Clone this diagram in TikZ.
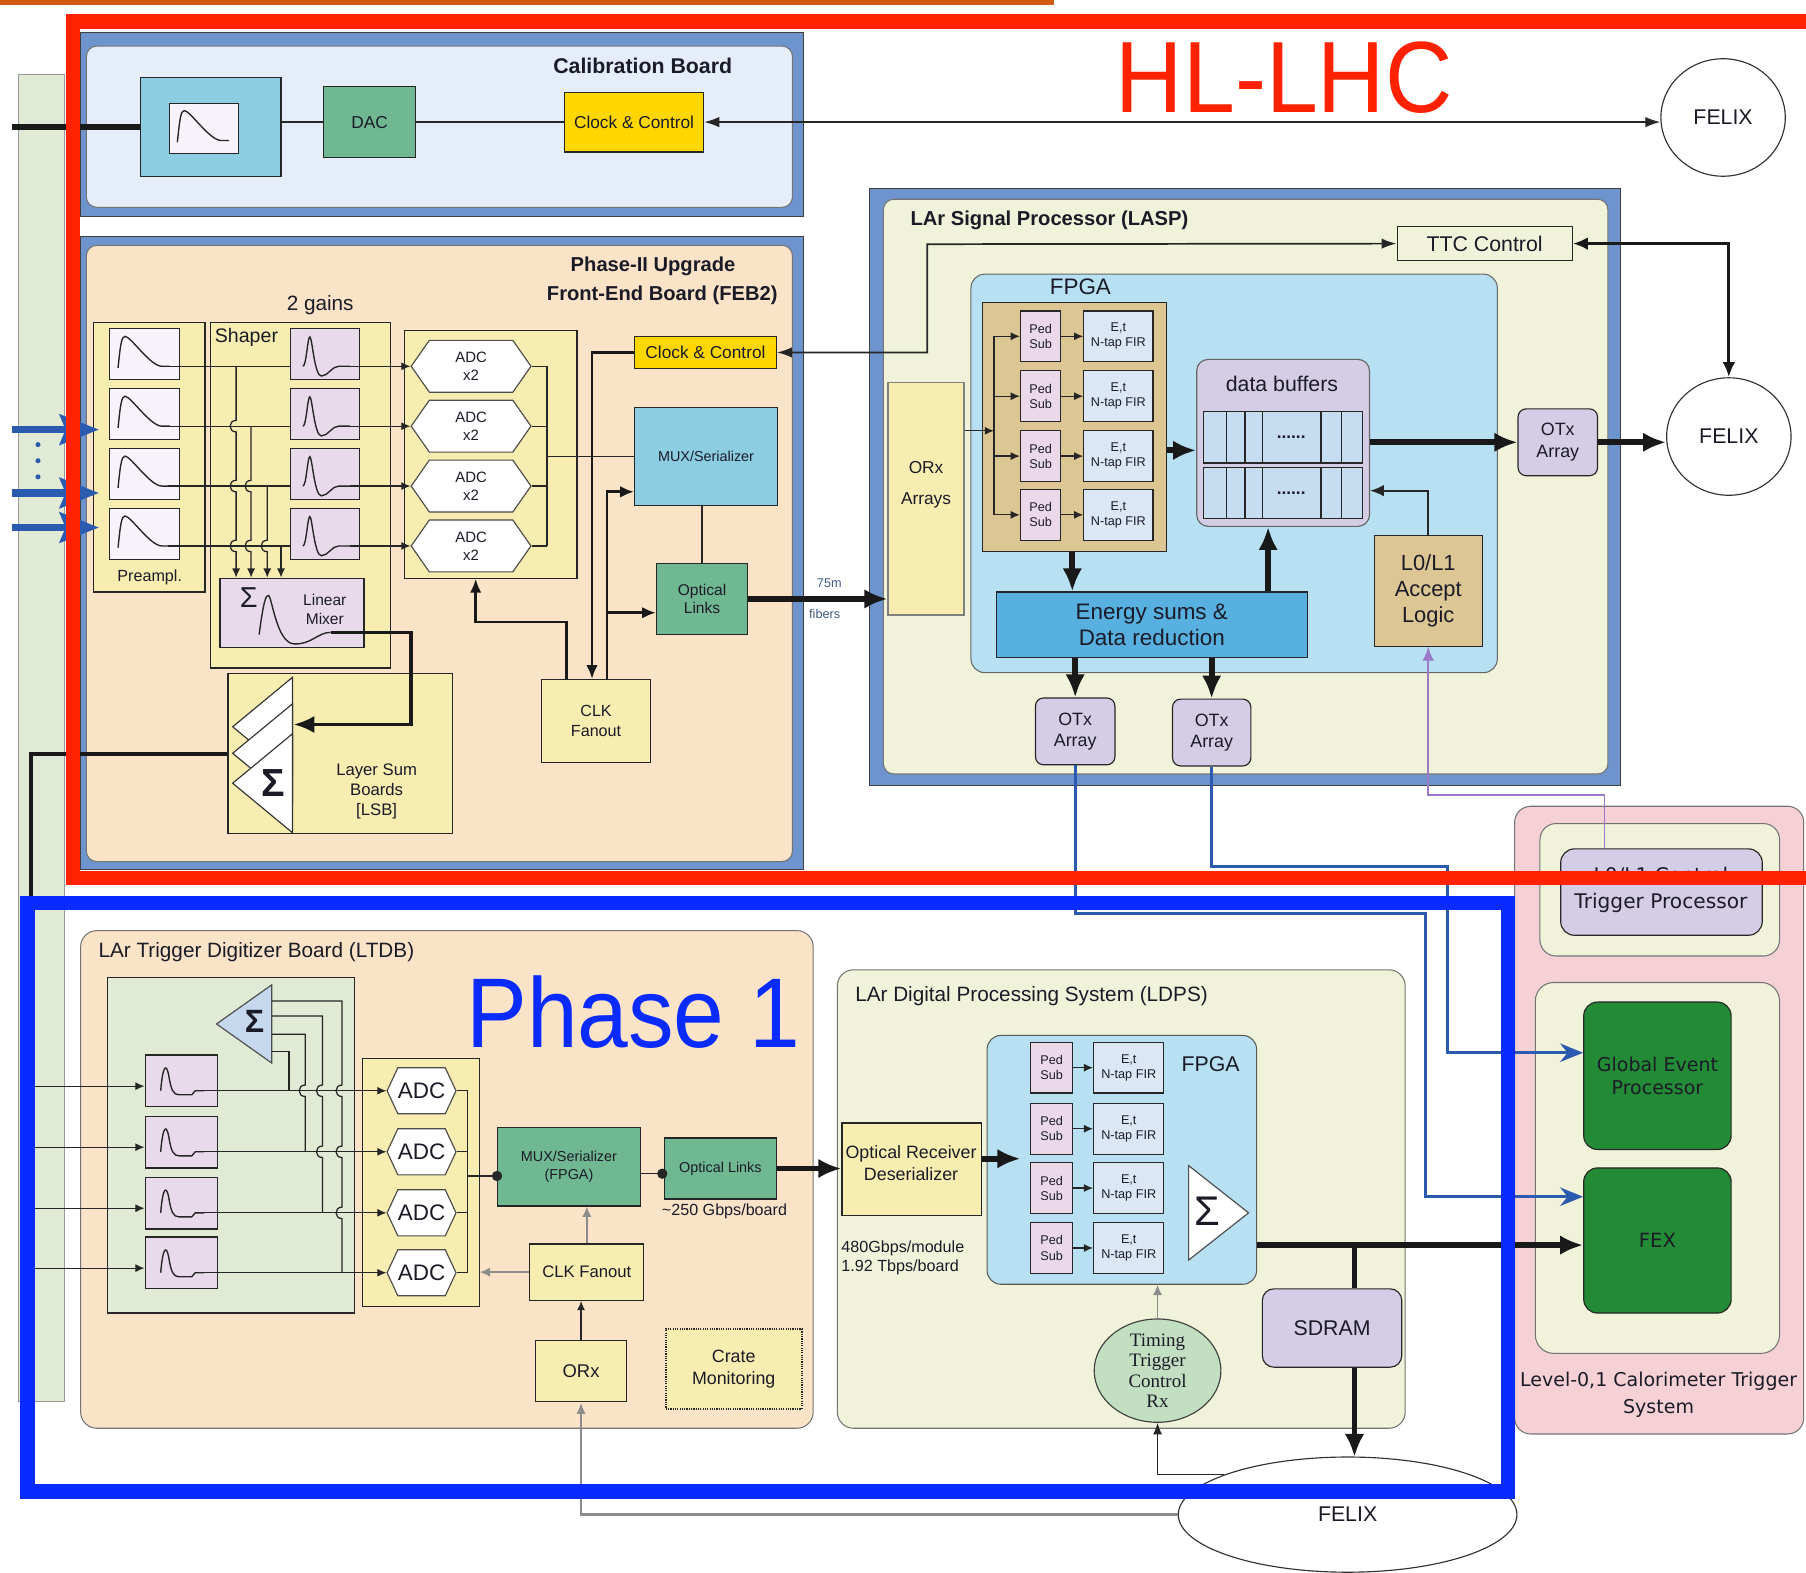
\documentclass[tikz,border=0pt]{standalone}
\usepackage{fontspec}
\setmainfont{Liberation Sans}
\newfontfamily\ttcserif{Liberation Serif}
\newfontfamily\widesans{DejaVu Sans}
\usetikzlibrary{arrows.meta,positioning,shapes.geometric,shapes.symbols}

\definecolor{hlred}{HTML}{FF2200}
\definecolor{phasebl}{HTML}{0A2BFF}
\definecolor{toporange}{HTML}{D05A12}
\definecolor{framebl}{HTML}{6E94CD}
\definecolor{calfill}{HTML}{E5EEF8}
\definecolor{peach}{HTML}{FBE3C8}
\definecolor{paleyel}{HTML}{F8EDB1}
\definecolor{palegrn}{HTML}{F0F3DA}
\definecolor{sagebg}{HTML}{E1EAD4}
\definecolor{skyfill}{HTML}{B8E0F3}
\definecolor{cyanbox}{HTML}{8DCDE2}
\definecolor{dacgrn}{HTML}{70B892}
\definecolor{clkyel}{HTML}{FFD700}
\definecolor{tanfill}{HTML}{DCC694}
\definecolor{lavfill}{HTML}{D5CDE6}
\definecolor{pulsefill}{HTML}{E8DAEA}
\definecolor{whitepulse}{HTML}{F8F3FA}
\definecolor{pedfill}{HTML}{EBD9EA}
\definecolor{firfill}{HTML}{DCE7F6}
\definecolor{bufcell}{HTML}{C6DDF1}
\definecolor{energyfill}{HTML}{58B0E0}
\definecolor{gepgrn}{HTML}{238A35}
\definecolor{l1pink}{HTML}{F5D1D6}
\definecolor{linkblue}{HTML}{2B5BAE}
\definecolor{l1purple}{HTML}{9A79C6}
\definecolor{ttcell}{HTML}{C3DFC2}
\definecolor{sumblue}{HTML}{C6D8EE}
\definecolor{inkdark}{HTML}{1B1B28}
\definecolor{fiberink}{HTML}{3D5A80}

\tikzset{
	tsz/.code={\pgfmathsetmacro\tszskip{1.2*#1}%
		\edef\tsznext{\noexpand\tikzset{font=\noexpand\fontsize{#1}{\tszskip}\noexpand\selectfont}}\tsznext},
	wsz/.code={\pgfmathsetmacro\tszskip{1.2*#1}%
		\edef\tsznext{\noexpand\tikzset{font=\noexpand\widesans\noexpand\fontsize{#1}{\tszskip}\noexpand\selectfont}}\tsznext},
	corners/.code args={#1,#2,#3,#4}{\pgfmathsetmacro\cnx{(#1+#3)/2}\pgfmathsetmacro\cny{(#2+#4)/2}%
		\pgfmathsetmacro\cnw{#3-#1}\pgfmathsetmacro\cnh{#4-#2}%
		\edef\cnnext{\noexpand\tikzset{at={(\cnx,\cny)}, minimum width=\cnw pt, minimum height=\cnh pt}}\cnnext},
	frame/.style={draw=black!75, fill=framebl, line width=0.8, inner sep=0},
	board/.style={draw=black!55, line width=0.9, rounded corners=9, inner sep=0},
	box/.style={draw=black!85, line width=1, inner sep=0, align=center},
	rbox/.style={box, rounded corners=7},
	adchex/.style={draw=black!70, fill=white, line width=1, shape=signal, signal to=west and east, inner sep=0, align=center},
	felix/.style={draw=black!80, fill=white, ellipse, line width=1, inner sep=0, tsz=18.5},
	wire/.style={line width=1.1, draw=black!85},
	arr/.style={wire, -{Latex[length=8pt,width=7pt]}},
	twoarr/.style={wire, {Latex[length=13pt,width=9pt]}-{Latex[length=13pt,width=9pt]}},
	midarr/.style={line width=2.5, draw=black!90, -{Latex[length=12pt,width=10pt]}},
	fatline/.style={line width=5, draw=black!90},
	fatarr/.style={fatline, -{Latex[length=20pt,width=17pt]}},
	bluearr/.style={line width=2.5, draw=linkblue, -{Stealth[length=20pt,width=16pt]}},
	greyarr/.style={line width=1.3, draw=black!45, -{Latex[length=9pt,width=8pt]}},
	upulse/.pic={\draw[line width=1.2, black!85] (-23,12) .. controls (-21,-8) and (-20,-15.5) .. (-17,-15.5) .. controls (-12,-15.5) and (5,10.5) .. (15,10.5) -- (22,10.5);},
	bpulse/.pic={\draw[line width=1.2, black!85] (-19,10.5) .. controls (-16,10.5) and (-15,-15) .. (-13,-15) .. controls (-11,-15) and (-9,19) .. (-3,19) .. controls (3,19) and (6,10.5) .. (12,10.5) -- (22,10.5);},
	lpulse/.pic={\draw[line width=1.2, black!85] (-18,8.5) .. controls (-16,-15) and (-13,-15) .. (-11,-5) .. controls (-9,8) and (-7,12) .. (-2,12) -- (9,12) -- (12,8.5) -- (20,8.5);}
}

\begin{document}
\begin{tikzpicture}[x=1pt,y=-1pt,every node/.style={text=inkdark}]
	\useasboundingbox (0,0) rectangle (1568,1365);

	\node[draw=black!40, fill=sagebg, line width=0.8, inner sep=0, corners={16,65,56,1217}] (sidebar) {};
	\fill[toporange] (0,0) rectangle (915,4);

	\node[frame, corners={70,28,698,188}] (calframe) {};
	\node[board, fill=calfill, corners={75,40,688,180}] (calboard) {};
	\node[tsz=18.5] (caltitle) at (558,57) {\bfseries Calibration Board};
	\node[box, fill=cyanbox, corners={122,67,244,153}] (calpulse) {};
	\node[box, fill=whitepulse, corners={147,90,207,133}] (calshape) {};
	\pic at (calshape) {upulse};
	\node[box, fill=dacgrn, tsz=15, corners={281,75,361,137}] (dac) {DAC};
	\node[box, fill=clkyel, tsz=15, corners={490,80,611,132}] (calclk) {Clock \& Control};
	\node[felix, minimum width=108, minimum height=102] (felixtop) at (1496,102) {FELIX};
	\node[text=hlred, font=\fontsize{88}{88}\selectfont] (hllhc) at (1115,67) {\scalebox{0.92}[1]{HL-LHC}};

	\draw[line width=5, black!90] (10,110) -- (calpulse.west);
	\draw[wire] (calpulse.east |- dac.west) -- (dac.west);
	\draw[wire] (dac.east) -- (calclk.west);
	\draw[twoarr] (calclk.east) -- (calclk.east -| felixtop.west);

	\node[frame, corners={70,205,698,755}] (febframe) {};
	\node[board, fill=peach, corners={75,213,688,748}] (febboard) {};
	\node[tsz=17.5] (febtitlea) at (567,231) {\bfseries Phase-II Upgrade};
	\node[tsz=17.5] (febtitleb) at (575,256) {\bfseries Front-End Board (FEB2)};
	\node[tsz=18] (gains) at (278,265) {2 gains};
	\node[box, fill=paleyel, corners={81,280,178,514}] (preamps) {};
	\node[tsz=14] (prelabel) at (130,501) {Preampl.};
	\node[box, fill=paleyel, corners={183,280,339,580}] (shapers) {};
	\node[tsz=17] (shplabel) at (214,293) {Shaper};
	\node[box, fill=paleyel, corners={351,287,501,502}] (adcs) {};

	\foreach \i/\y in {1/318,2/370,3/422,4/474} {
		\node[box, fill=whitepulse, minimum width=61, minimum height=44] (pre\i) at (125.5,\y-10.5) {};
		\pic at (pre\i) {upulse};
		\node[box, fill=pulsefill, minimum width=60, minimum height=44] (shp\i) at (282,\y-10.5) {};
		\pic at (shp\i) {bpulse};
		\node[adchex, minimum width=104, minimum height=45, signal pointer angle=110, tsz=13] (adc\i) at (409,\y) {ADC\\x2};
		\draw[wire] ([shift={(20,10.5)}]pre\i.center) -- ([shift={(0,10.5)}]shp\i.west);
		\draw[arr] ([shift={(22,10.5)}]shp\i.center) -- (adc\i.west);
		\draw[wire] (adc\i.east) -- (475,\y);
	}

	\node[box, fill=pulsefill, corners={191,502,316,562}] (mixer) {};
	\node[font=\fontsize{25}{25}\selectfont] (mixsig) at (216,519) {Σ};
	\node[tsz=13.5, align=center] (mixlabel) at (282,529) {Linear\\Mixer};
	\draw[line width=1.2, black!85] (225,551) .. controls (229,520) and (231,517) .. (233,517) .. controls (236,517) and (240,558) .. (255,559) .. controls (270,560) and (276,549) .. (287,549);

	\draw[arr] (205,318) \foreach \h in {370,422,474} { -- (205,\h-5) .. controls +(-7,0) and +(-7,0) .. (205,\h+5) } -- (205,0 |- mixer.north);
	\draw[arr] (218,370) \foreach \h in {422,474} { -- (218,\h-5) .. controls +(-7,0) and +(-7,0) .. (218,\h+5) } -- (218,0 |- mixer.north);
	\draw[arr] (232,422) -- (232,469) .. controls +(-7,0) and +(-7,0) .. (232,479) -- (232,0 |- mixer.north);
	\draw[arr] (244,474) -- (244,0 |- mixer.north);

	\node[box, fill=clkyel, tsz=15, corners={551,292,674,320}] (febclk) {Clock \& Control};
	\node[box, fill=cyanbox, tsz=12.5, corners={551,354,675,439}] (mux) {MUX/Serializer};
	\node[box, fill=dacgrn, tsz=13.5, corners={570,489,649,551}] (optfeb) {Optical\\Links};
	\node[box, fill=paleyel, tsz=14, corners={470,590,565,662}] (fanout) {CLK\\Fanout};

	\draw[wire] (475,318) -- (475,474);
	\draw[wire] (mux.west -| 475,0) -- (mux.west);
	\draw[wire, line width=1.6] (optfeb.north) -- (optfeb.north |- mux.south);
	\draw[midarr] (febclk.west) -| (514,0 |- fanout.north);
	\draw[midarr] (527,0 |- fanout.north) -- (527,427) -- (mux.west |- 0,427);
	\draw[midarr] (527,532) -- (optfeb.west |- 0,532);
	\draw[midarr] (492,0 |- fanout.north) -- (492,540) -- (413,540) -- (413,0 |- adcs.south);

	\node[box, fill=paleyel, corners={198,585,393,724}] (lsb) {};
	\foreach \t in {588,611,637}
		\draw[fill=white, draw=black!80, line width=1] (254,\t) -- (202,\t+43) -- (254,\t+86) -- cycle;
	\node[font=\fontsize{34}{34}\selectfont\bfseries] (lsbsig) at (237,680) {Σ};
	\node[tsz=14.5, align=center] (lsblabel) at (327,687) {Layer Sum\\Boards\\{[LSB]}};
	\draw[line width=3, black!90, -{Latex[length=18pt,width=15pt]}] (287,549) -- (357,549) -- (357,629) -- (255,629);
	\draw[line width=3.5, black!90] (lsb.west) -- (27,0 |- lsb.west) -- (27,790);

	\foreach \y in {373,428,458}
		\draw[line width=6.5, linkblue, -{Stealth[length=34pt,width=26pt,inset=5pt]}] (10,\y) -- (86,\y);
	\foreach \y in {386,400,414}
		\fill[linkblue] (33,\y) circle (2.2);

	\node[frame, corners={755,164,1407,682}] (laspframe) {};
	\node[board, fill=palegrn, corners={767,173,1396,672}] (laspboard) {};
	\node[tsz=17.5, anchor=west] (lasptitle) at (787,191) {\bfseries LAr Signal Processor (LASP)};
	\node[box, fill=palegrn, tsz=18.5, corners={1213,197,1365,226}] (ttc) {TTC Control};
	\node[felix, minimum width=108, minimum height=102] (felixmid) at (1501,379) {FELIX};
	\node[board, fill=skyfill, draw=black!60, rounded corners=12, corners={843,238,1300,584}] (laspfpga) {};
	\node[tsz=19.5] (laspfpgalabel) at (938,249) {FPGA};
	\node[box, fill=paleyel, draw=black!50, corners={771,332,837,534}] (orx) {};
	\node[tsz=15, align=center] (orxlabel) at (804,421) {ORx\\[9pt]Arrays};
	\node[box, fill=tanfill, corners={853,263,1013,479}] (pedtray) {};

	\draw[twoarr, line width=1.5] (febclk.east) -- (805,306) -- (805,212) -- (ttc.west);
	\draw[line width=2.8, black!90, {Latex[length=13pt,width=11pt]}-{Latex[length=13pt,width=11pt]}] (ttc.east) -| (felixmid.north);
	\draw[fatarr] (optfeb.east) -- (optfeb.east -| orx.west);
	\node[tsz=11, text=fiberink] (fibera) at (720,506) {75m};
	\node[tsz=11, text=fiberink] (fiberb) at (716,533) {fibers};

	\draw[wire] (863,292) -- (863,447);
	\draw[arr] (orx.east |- 0,374) -- (863,374);
	\foreach \i/\y in {1/292,2/344,3/396,4/447} {
		\node[box, fill=pedfill, minimum width=35, minimum height=44, tsz=11] (ped\i) at (903.5,\y) {Ped\\Sub};
		\node[box, fill=firfill, minimum width=60, minimum height=44, tsz=11] (fir\i) at (971,\y) {E,t\\N-tap FIR};
		\draw[arr] (863,\y) -- (ped\i.west);
		\draw[arr] (ped\i.east) -- (fir\i.west);
	}

	\node[rbox, fill=lavfill, draw=black!60, rounded corners=10, corners={1039,312,1189,457}] (buffers) {};
	\node[tsz=18.5] (buflabel) at (1113,333) {data buffers};
	\foreach \r/\a/\b in {1/357/402,2/406/450} {
		\node[box, fill=bufcell, corners={1045,\a,1183,\b}] (bufrow\r) {};
		\foreach \x in {1065,1081,1096,1147,1165}
			\draw[wire] (\x,\a) -- (\x,\b);
		\node[tsz=15] at (1121,{(\a+\b)/2}) {\bfseries ......};
	}
	\node[rbox, fill=lavfill, tsz=15.5, corners={1318,355,1387,413}] (otxr) {OTx\\Array};
	\node[box, fill=tanfill, tsz=19, corners={1193,465,1287,561}] (l0l1) {L0/L1\\Accept\\Logic};
	\node[box, fill=energyfill, tsz=19.5, corners={865,514,1135,571}] (energy) {Energy sums \&\\Data reduction};
	\node[rbox, fill=lavfill, tsz=15.5, corners={899,606,968,664}] (otxa) {OTx\\Array};
	\node[rbox, fill=lavfill, tsz=15.5, corners={1018,607,1086,665}] (otxb) {OTx\\Array};

	\draw[fatarr] (pedtray.east |- 0,391) -- (buffers.west |- 0,391);
	\draw[fatarr] (buffers.east |- otxr.west) -- (otxr.west);
	\draw[fatarr] (otxr.east) -- (otxr.east -| felixmid.west);
	\draw[wire, line width=1.5, -{Latex[length=12pt,width=10pt]}] (l0l1.north) |- (buffers.east |- 0,426);
	\draw[fatarr] (931,0 |- pedtray.south) -- (931,0 |- energy.north);
	\draw[fatarr] (1101,0 |- energy.north) -- (1101,0 |- buffers.south);
	\draw[fatarr] (otxa.north |- energy.south) -- (otxa.north);
	\draw[fatarr] (otxb.north |- energy.south) -- (otxb.north);

	\node[board, fill=l1pink, rounded corners=14, corners={1315,700,1566,1245}] (l1sys) {};
	\node[board, fill=palegrn, rounded corners=14, corners={1337,715,1545,830}] (tpbox) {};
	\node[rbox, fill=lavfill, rounded corners=12, corners={1355,737,1530,812}] (tproc) {};
	\node[wsz=17.5] (tplabela) at (1442,760) {L0/L1 Central};
	\node[wsz=17.5] (tplabelb) at (1442,784) {Trigger Processor};
	\node[board, fill=palegrn, rounded corners=16, corners={1333,853,1545,1175}] (calobox) {};
	\node[rbox, fill=gepgrn, rounded corners=12, wsz=16.5, corners={1375,870,1503,998}] (gep) {Global Event\\Processor};
	\node[rbox, fill=gepgrn, rounded corners=12, wsz=17, corners={1375,1014,1503,1140}] (fex) {FEX};
	\node[wsz=16.5] (l1labela) at (1440,1199) {Level-0,1 Calorimeter Trigger};
	\node[wsz=16.5] (l1labelb) at (1440,1223) {System};

	\draw[bluearr] (otxa.south) -- (otxa.south |- 0,793) -| (1238,1039) -- (fex.west |- 0,1039);
	\draw[bluearr] (otxb.south) -- (otxb.south |- 0,752) -| (1257,914) -- (gep.west |- 0,914);
	\draw[line width=1.5, l1purple, -{Latex[length=12pt,width=10pt]}] (1393,0 |- tproc.north) |- (l0l1.south |- 0,690) -- (l0l1.south);

	\node[board, fill=peach, rounded corners=14, corners={70,808,706,1240}] (ltdb) {};
	\node[tsz=18, anchor=west] (ltdbtitle) at (82,827) {LAr Trigger Digitizer Board (LTDB)};
	\node[box, fill=sagebg, corners={93,849,308,1140}] (ltsage) {};
	\draw[fill=sumblue, draw=black!70, line width=1] (236,855) -- (188,889) -- (236,923) -- cycle;
	\node[font=\fontsize{28}{28}\selectfont\bfseries] (ltsig) at (221,887) {Σ};
	\node[box, fill=paleyel, corners={315,919,416,1134}] (ltadcs) {};

	\foreach \i/\y in {1/947,2/1000,3/1053,4/1105} {
		\node[box, fill=pulsefill, minimum width=63, minimum height=45] (ltp\i) at (157.5,\y-8.5) {};
		\pic at (ltp\i) {lpulse};
		\node[adchex, minimum width=53, minimum height=40, signal pointer angle=130, tsz=19.5] (ltadc\i) at (366,\y) {ADC};
		\draw[arr] (30,\y-4) -- ([shift={(0,4.5)}]ltp\i.west);
		\draw[arr] ([shift={(20,8.5)}]ltp\i.center) -- (ltadc\i.west);
		\draw[wire] (ltadc\i.east) -- (406,\y);
	}
	\draw[wire] (236,913) -| (251,947);
	\draw[wire] (236,898) -- (265,898) -- (265,942) .. controls +(-7,0) and +(-7,0) .. (265,952) -- (265,1000);
	\draw[wire] (236,882) -- (280,882) \foreach \h in {947,1000} { -- (280,\h-5) .. controls +(-7,0) and +(-7,0) .. (280,\h+5) } -- (280,1053);
	\draw[wire] (236,869) -- (297,869) \foreach \h in {947,1000,1053} { -- (297,\h-5) .. controls +(-7,0) and +(-7,0) .. (297,\h+5) } -- (297,1105);
	\draw[wire] (406,947) -- (406,1105);

	\node[box, fill=dacgrn, tsz=12.5, corners={432,979,556,1047}] (ltmux) {MUX/Serializer\\(FPGA)};
	\node[box, fill=dacgrn, tsz=12.5, corners={577,988,674,1041}] (ltopt) {Optical Links};
	\node[tsz=14] (ltrate) at (629,1052) {\textasciitilde250 Gbps/board};
	\node[box, fill=paleyel, tsz=14.5, corners={460,1080,559,1129}] (ltclk) {CLK Fanout};
	\node[box, fill=paleyel, tsz=16, corners={465,1164,544,1217}] (ltorx) {ORx};
	\node[box, fill=paleyel, densely dotted, line width=1.6, tsz=15.5, corners={578,1154,696,1223}] (crate) {Crate\\Monitoring};

	\draw[wire] (406,1021) -- (ltmux.west |- 0,1021);
	\fill[black!85] (ltmux.west |- 0,1021) circle (4.5);
	\draw[wire] (ltmux.east |- 0,1019) -- (ltopt.west |- 0,1019);
	\fill[black!85] (575,1019) circle (4.5);
	\draw[greyarr] (ltclk.north) -- (ltclk.north |- ltmux.south);
	\draw[greyarr] (ltclk.west) -- (ltclk.west -| ltadcs.east);
	\draw[arr] (ltorx.north) -- (ltorx.north |- ltclk.south);

	\node[board, fill=palegrn, rounded corners=14, corners={727,842,1220,1240}] (ldps) {};
	\node[tsz=18, anchor=west] (ldpstitle) at (739,865) {LAr Digital Processing System (LDPS)};
	\node[board, fill=skyfill, draw=black!65, rounded corners=12, corners={857,899,1091,1115}] (ldfpga) {};
	\node[tsz=18.5] (ldfpgalabel) at (1051,924) {FPGA};
	\foreach \i/\y in {1/927,2/980,3/1031.5,4/1083.5} {
		\node[box, fill=pedfill, minimum width=36, minimum height=44, tsz=11] (ldped\i) at (913,\y) {Ped\\Sub};
		\node[box, fill=firfill, minimum width=61, minimum height=44, tsz=11] (ldfir\i) at (980,\y) {E,t\\N-tap FIR};
		\draw[arr] (ldped\i.east) -- (ldfir\i.west);
	}
	\draw[fill=white, draw=black!70, line width=1] (1032,1012) -- (1084,1053) -- (1032,1094) -- cycle;
	\node[font=\fontsize{36}{36}\selectfont] (ldsig) at (1048,1052) {Σ};
	\node[box, fill=paleyel, corners={731,975,852,1055}] (ordes) {};
	\node[tsz=15.5, align=center] (ordeslabel) at (791,1010) {Optical Receiver\\Deserializer};
	\node[tsz=14, anchor=west, align=left] (ldrate) at (727,1092) {480Gbps/module\\1.92 Tbps/board};
	\node[rbox, fill=lavfill, rounded corners=10, tsz=18.5, corners={1096,1119,1217,1187}] (sdram) {SDRAM};
	\node[draw=black!75, fill=ttcell, ellipse, minimum width=110, minimum height=78, inner sep=0, line width=1, align=center, font=\ttcserif\fontsize{16.5}{17.5}\selectfont] (ttcrx) at (1005,1190) {Timing\\Trigger\\Control\\Rx};
	\node[felix, minimum width=294, minimum height=100] (felixbot) at (1170,1315) {FELIX};

	\draw[fatarr] (ltopt.east) -- (ltopt.east -| ordes.west);
	\draw[fatarr] (ordes.east |- 0,1006) -- (886,1006);
	\draw[fatarr] (ldfpga.east |- 0,1081) -- (fex.west |- 0,1081);
	\draw[fatline] (1176,1081) -- (1176,0 |- sdram.north);
	\draw[fatarr] (1176,0 |- sdram.south) -- (1176,1265);
	\draw[greyarr] (ttcrx.north) -- (ttcrx.north |- ldfpga.south);
	\draw[wire, -{Latex[length=10pt,width=8pt]}] (felixbot.162) -| (ttcrx.south);
	\draw[line width=2, black!45, -{Latex[length=10pt,width=8pt]}] (felixbot.west) -| (ltorx.south);

	\node[text=phasebl, font=\fontsize{86}{86}\selectfont] (phase) at (550,879) {\scalebox{0.92}[1]{Phase 1}};

	\draw[line width=12.5, hlred] (1590,18.5) -- (63.5,18.5) -- (63.5,762.5) -- (1590,762.5);
	\draw[line width=12.5, phasebl] (24,784) rectangle (1309,1295);

\end{tikzpicture}
\end{document}
